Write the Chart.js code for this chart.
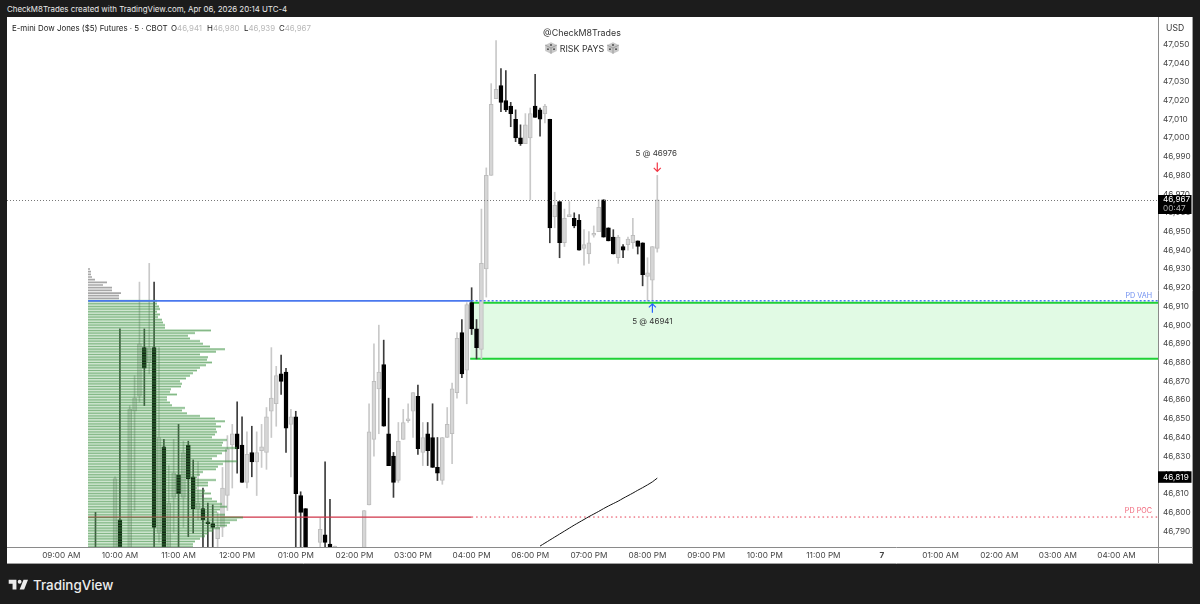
<!DOCTYPE html>
<html>
<head>
<meta charset="utf-8">
<script src="https://cdn.jsdelivr.net/npm/chart.js@4"></script>
<style>
html,body{margin:0;padding:0;width:1200px;height:604px;overflow:hidden;background:#1c1c1c;font-family:Inter,Roboto,sans-serif}
#panel{position:absolute;left:7px;top:17px;width:1186px;height:547px;background:#fff}
canvas{position:absolute;left:7px;top:17px}
.t{position:absolute;white-space:nowrap}
#top{left:7px;top:3px;color:#e8e8e8;font-size:7.9px;line-height:13px}
.h{top:22px;color:#222;font-size:7.9px;line-height:13px}
.h span{color:#b8b8b8}
#sig{left:500px;width:164px;top:26px;text-align:center;color:#333;font-size:8.9px;line-height:13px}
#sig2{left:500px;width:164px;top:41px;text-align:center;color:#333;font-size:8.9px;line-height:13px}
#sig2 svg{vertical-align:-3px;margin:0 2px}
#usd{left:1166px;top:22px;color:#333;font-size:8.6px;line-height:13px}
#logoText{left:33px;top:575px;color:#ececec;font-size:13.4px;line-height:20px;font-weight:500}
#logo{position:absolute;left:7px;top:576px}
</style>
</head>
<body>
<div id="panel"></div>
<canvas id="c" width="1186" height="547"></canvas>
<div class="t" id="top">CheckM8Trades created with TradingView.com, Apr 06, 2026 20:14 UTC-4</div>
<div class="t h" style="left:12px">E-mini Dow Jones ($5) Futures · 5 · CBOT</div>
<div class="t h" style="left:171px">O<span>46,941</span></div>
<div class="t h" style="left:207px">H<span>46,980</span></div>
<div class="t h" style="left:244px">L<span>46,939</span></div>
<div class="t h" style="left:279px">C<span>46,967</span></div>
<div class="t" id="sig">@CheckM8Trades</div>
<div class="t" id="sig2"><svg width="14" height="14" viewBox="0 0 12 12"><path d="M6 1l5 2.5v5L6 11 1 8.500v-5z" fill="#c9c9c9"/><path d="M1 3.500L6 6l5-2.500M6 6v5" stroke="#888" stroke-width=".6" fill="none"/><circle cx="6" cy="3.400" r=".8" fill="#444"/><circle cx="3.400" cy="7" r=".8" fill="#444"/><circle cx="8.600" cy="7" r=".8" fill="#444"/></svg>RISK PAYS<svg width="14" height="14" viewBox="0 0 12 12"><path d="M6 1l5 2.500v5L6 11 1 8.500v-5z" fill="#c9c9c9"/><path d="M1 3.500L6 6l5-2.500M6 6v5" stroke="#888" stroke-width=".6" fill="none"/><circle cx="6" cy="3.400" r=".8" fill="#444"/><circle cx="3.400" cy="7" r=".8" fill="#444"/><circle cx="8.600" cy="7" r=".8" fill="#444"/></svg></div>
<div class="t" id="usd">USD</div>
<svg id="logo" width="24" height="18" viewBox="0 0 36 28"><path fill="#ececec" d="M14 6H2v6h6v9h6V6Zm12 15h-7l6-15h7l-6 15Zm-7-9a3 3 0 1 0 0-6 3 3 0 0 0 0 6Z"/></svg>
<div class="t" id="logoText">TradingView</div>
<script>
// ---- time axis ----
const slotCount = 235;
const firstTickSlot = 10;
const slotsPerTick = 12;
const tickLabels = ['09:00 AM','10:00 AM','11:00 AM','12:00 PM','01:00 PM','02:00 PM','03:00 PM','04:00 PM','06:00 PM','07:00 PM','08:00 PM','09:00 PM','10:00 PM','11:00 PM','7','01:00 AM','02:00 AM','03:00 AM','04:00 AM'];

// ---- candles (time slot, open, high, low, close); off-chart values are estimates ----
const barSlots = [17,21,22,24,25,26,27,28,29,30,31,32,33,34,35,36,37,38,39,40,41,42,43,44,45,46,47,48,49,50,51,52,53,54,55,56,57,58,59,60,63,64,65,66,72,73,74,75,76,77,78,79,80,81,82,83,84,85,86,87,88,89,90,91,92,93,94,95,96,97,98,99,100,101,102,103,104,105,106,107,108,109,110,111,112,113,114,115,116,117,118,119,120,121,122,123,124,125,126,127,128,129,130,131,132];
const opens  = [46778,46770,46796,46770,46854,46862,46888,46880,46888,46789,46835,46775,46808,46820,46808,46836,46819,46802,46802,46795,46794,46786,46792,46809,46836,46842,46836,46816,46832,46827,46833,46832,46854,46858,46874,46875,46847,46851,46809,46802,46784,46788,46783,46775,46775,46804,46839,46866,46879,46842,46830,46817,46839,46849,46854,46862,46832,46842,46840,46824,46817,46840,46842,46864,46896,46876,46912,46898,46887,46930,46980,47021,47028,47020,47017,47010,47000,46997,47000,47017,47015,47013,47010,46958,46966,46944,46958,46957,46956,46941,46938,46948,46950,46967,46952,46947,46936,46942,46943,46944,46945,46944,46926,46924,46941];
const highs  = [46800,46819,46898,46857,46873,46923,46898,46933,46923,46888,46839,46825,46839,46847,46838,46838,46828,46827,46813,46805,46804,46800,46824,46841,46847,46859,46851,46843,46846,46843,46847,46856,46888,46878,46884,46877,46855,46854,46811,46802,46797,46827,46807,46782,46801,46858,46890,46900,46892,46861,46832,46848,46855,46858,46864,46868,46848,46848,46858,46840,46840,46856,46869,46896,46903,46912,46920,46903,46962,46984,47029,47052,47037,47036,47019,47015,47007,47013,47016,47034,47016,47018,47010,46971,46966,46962,46966,46960,46959,46951,46950,46953,46967,46967,46952,46951,46948,46943,46947,46957,46945,46944,46936,46942,46980];
const lows   = [46768,46765,46765,46765,46801,46859,46857,46874,46770,46784,46770,46770,46789,46775,46792,46787,46789,46796,46775,46775,46775,46775,46787,46801,46813,46821,46816,46813,46819,46809,46824,46823,46840,46846,46863,46832,46819,46775,46775,46770,46775,46775,46770,46770,46770,46804,46830,46842,46846,46825,46808,46816,46839,46848,46840,46831,46825,46825,46824,46817,46815,46840,46826,46861,46872,46858,46895,46882,46882,46915,46980,47021,47014,47014,47006,46998,46996,46997,46967,47011,47001,47008,46944,46952,46936,46942,46958,46952,46940,46932,46933,46947,46950,46947,46945,46938,46933,46936,46940,46941,46938,46921,46913,46913,46939];
const closes = [46772,46818,46770,46855,46861,46890,46877,46888,46792,46840,46775,46805,46821,46810,46832,46818,46802,46805,46796,46794,46792,46792,46813,46834,46842,46834,46816,46831,46827,46832,46835,46851,46861,46873,46870,46845,46851,46810,46800,46775,46791,46784,46772,46782,46801,46843,46870,46875,46846,46825,46816,46838,46848,46850,46864,46834,46840,46833,46824,46821,46840,46847,46866,46893,46874,46911,46898,46888,46933,46980,47018,47026,47019,47015,47013,47000,46997,47007,47013,47011,47010,47017,46952,46964,46944,46957,46959,46953,46940,46943,46944,46949,46963,46947,46945,46938,46947,46940,46946,46948,46942,46927,46928,46942,46967];

// ---- curve (starts at slot 108) ----
const curveStartSlot = 108;
const curveValues = [46782,46783.6,46785.2,46786.8,46788.4,46790,46791.6,46793.2,46794.7,46796.2,46797.7,46799.1,46800.5,46802,46803.4,46804.7,46806,46807.5,46808.9,46810.3,46811.8,46813.2,46814.7,46816.3,46818.3];

// ---- volume profile rows, top to bottom ----
const profileTopPrice = 46930;
const profileRowStep = 1.427;
const profileUpperVolumes = [2,3,3,4,7,19,15,24,24,33,31,31];
const profileLowerVolumes = [69,69,71,72,69,72,70,74,75,77,77,123,107,100,102,112,115,122,137,128,112,120,119,124,118,112,109,105,102,98,92,94,93,83,82,89,79,79,82,84,97,94,99,112,127,137,128,133,128,129,127,124,139,135,134,149,139,134,129,124,149,135,130,128,115,112,109,128,120,120,109,117,123,114,124,129,134,139,132,129,137,155,149,142,139,132,125,120,117,112,107,105,105];

// ---- levels ----
const lastPrice = 46967;
const curveLast = 46819;
const vahPrice = 46913;
const pocPrice = 46797.5;
const zoneTop = 46912;
const zoneBottom = 46882;
const sellFill = {slot:132, price:46980, label:'5 @ 46976'};
const buyFill  = {slot:131, price:46913, label:'5 @ 46941'};
const levelStartSlot = 15.5, levelSplitSlot = 94, zoneStartSlot = 93.7, slotEnd = slotCount-0.5;

// ---- build ----
const categories = Array(slotCount).fill('');
tickLabels.forEach((t,k)=>{categories[firstTickSlot+k*slotsPerTick]=t;});
const wickData=Array(slotCount).fill(null), bodyData=Array(slotCount).fill(null),
      wickCol=Array(slotCount).fill('#000'), bodyCol=Array(slotCount).fill('#000'), bodyEdge=Array(slotCount).fill('#000');
barSlots.forEach((s,i)=>{
  const up = closes[i]>=opens[i];
  wickData[s]=[lows[i],highs[i]];
  bodyData[s]=[opens[i],closes[i]];
  wickCol[s]=up?'#c9c9c9':'#3c3c3c';
  bodyCol[s]=up?'#d6d6d6':'#000';
  bodyEdge[s]=up?'#bdbdbd':'#000';
});
function rows(list,startRow){
  const out=[];
  list.forEach((v,k)=>{const p=profileTopPrice-(startRow+k)*profileRowStep;
    out.push({x:0,y:p},{x:v,y:p},{x:null,y:null});});
  return out;
}
const line=(o)=>Object.assign({type:'line',pointRadius:0,xAxisID:'xi',yAxisID:'y',borderWidth:1,fill:false,tension:0},o);

const annotate={
  id:'annotate',
  afterDraw(chart){
    const {ctx,chartArea:a,scales}=chart, y=scales.y, xi=scales.xi;
    const W=chart.width,H=chart.height;
    ctx.save();
    // frame lines
    ctx.strokeStyle='#8a8a8a';ctx.lineWidth=1;
    ctx.beginPath();ctx.moveTo(0,a.bottom+.5);ctx.lineTo(W,a.bottom+.5);ctx.moveTo(a.right+.5,0);ctx.lineTo(a.right+.5,H);ctx.stroke();
    ctx.beginPath();ctx.strokeStyle='#a0a0a0';ctx.moveTo(W-.5,0);ctx.lineTo(W-.5,H);ctx.moveTo(0,H-.5);ctx.lineTo(W,H-.5);ctx.stroke();
    // last price line
    const ly=Math.round(y.getPixelForValue(lastPrice))+.5;
    ctx.setLineDash([1,2]);ctx.strokeStyle='#777';ctx.beginPath();ctx.moveTo(0,ly);ctx.lineTo(a.right,ly);ctx.stroke();ctx.setLineDash([]);
    // price tags
    ctx.fillStyle='#000';
    ctx.fillRect(a.right,ly-5.5,33.5,19);
    const cy=y.getPixelForValue(curveLast);
    ctx.fillRect(a.right,cy-5.5,33.5,11.5);
    ctx.textAlign='left';ctx.textBaseline='middle';
    ctx.font='8.2px Inter';ctx.fillStyle='#fff';
    ctx.fillText(lastPrice.toLocaleString('en-US'),a.right+5,ly-.5);
    ctx.fillText(curveLast.toLocaleString('en-US'),a.right+5,cy+.5);
    ctx.fillStyle='#b0b0b0';ctx.fillText('00:47',a.right+5,ly+8);
    // level labels
    ctx.textAlign='right';ctx.font='7.2px Inter';
    ctx.fillStyle='#6f8ff0';ctx.fillText('PD VAH',a.right-6,y.getPixelForValue(vahPrice)-5);
    ctx.fillStyle='#f0667a';ctx.fillText('PD POC',a.right-6,y.getPixelForValue(pocPrice)-6);
    // fills
    ctx.textAlign='center';ctx.font='8px Inter';ctx.fillStyle='#333';
    const sx=xi.getPixelForValue(sellFill.slot), sy=y.getPixelForValue(sellFill.price);
    const bx=xi.getPixelForValue(buyFill.slot), by=y.getPixelForValue(buyFill.price);
    ctx.fillText(sellFill.label,sx-1,sy-22);
    ctx.fillText(buyFill.label,bx,by+21);
    ctx.lineWidth=1.2;
    ctx.strokeStyle='#f23645';ctx.beginPath();ctx.moveTo(sx,sy-13);ctx.lineTo(sx,sy-4);ctx.moveTo(sx-3.5,sy-7.5);ctx.lineTo(sx,sy-4);ctx.lineTo(sx+3.5,sy-7.5);ctx.stroke();
    ctx.strokeStyle='#2962ff';ctx.beginPath();ctx.moveTo(bx,by+12);ctx.lineTo(bx,by+3);ctx.moveTo(bx-3.5,by+6.5);ctx.lineTo(bx,by+3);ctx.lineTo(bx+3.5,by+6.5);ctx.stroke();
    ctx.restore();
  }
};

new Chart(document.getElementById('c'),{
  data:{labels:categories,datasets:[
    line({label:'Zone',order:10,data:[{x:zoneStartSlot,y:zoneTop},{x:slotEnd,y:zoneTop}],borderColor:'#1fd136',borderWidth:2,fill:{value:zoneBottom},backgroundColor:'#e1fae4'}),
    line({label:'Zone bottom',order:9,data:[{x:zoneStartSlot,y:zoneBottom},{x:slotEnd,y:zoneBottom}],borderColor:'#1fd136',borderWidth:2}),
    {type:'bar',label:'Wicks',order:7,data:wickData,backgroundColor:wickCol,barThickness:1,grouped:false,xAxisID:'x',yAxisID:'y'},
    {type:'bar',label:'Bodies',order:6,data:bodyData,backgroundColor:bodyCol,borderColor:bodyEdge,borderWidth:1,borderSkipped:false,barThickness:4,grouped:false,xAxisID:'x',yAxisID:'y'},
    line({label:'POC',order:5,data:[{x:levelStartSlot,y:pocPrice},{x:levelSplitSlot,y:pocPrice}],borderColor:'#cf3448',borderWidth:1.2}),
    line({label:'POC dotted',order:5,data:[{x:levelSplitSlot,y:pocPrice},{x:slotEnd,y:pocPrice}],borderColor:'#e5364c',borderWidth:1,borderDash:[1.5,3]}),
    line({label:'Profile upper',order:3,xAxisID:'xp',data:rows(profileUpperVolumes,0),borderColor:'rgba(120,120,120,.65)',borderWidth:1.7,borderCapStyle:'butt',spanGaps:false}),
    line({label:'Profile lower band',order:4,xAxisID:'xp',data:rows(profileLowerVolumes,12),borderColor:'rgba(76,160,80,.36)',borderWidth:2.5,borderCapStyle:'butt',spanGaps:false}),
    line({label:'Profile lower',order:3,xAxisID:'xp',data:rows(profileLowerVolumes,12),borderColor:'rgba(56,135,60,.45)',borderWidth:1,borderCapStyle:'butt',spanGaps:false}),
    line({label:'VAH',order:2,data:[{x:levelStartSlot,y:vahPrice},{x:levelSplitSlot,y:vahPrice}],borderColor:'#4a78ee',borderWidth:1.8}),
    line({label:'VAH dotted',order:2,data:[{x:levelSplitSlot,y:vahPrice},{x:slotEnd,y:vahPrice}],borderColor:'#4a78ee',borderWidth:1.6,borderDash:[2,2]}),
    line({label:'Curve',order:1,data:curveValues.map((v,k)=>({x:curveStartSlot+k,y:v})),borderColor:'#111',borderWidth:1,tension:.3})
  ]},
  options:{
    responsive:false,animation:false,events:[],
    layout:{padding:{left:3,right:0,top:0,bottom:0}},
    plugins:{legend:{display:false},tooltip:{enabled:false}},
    scales:{
      x:{type:'category',offset:true,position:'bottom',grid:{display:false,drawTicks:false,tickLength:0},border:{display:false},
         afterFit(s){s.height=17;s.paddingLeft=0;s.paddingRight=0;},
         ticks:{autoSkip:false,maxRotation:0,minRotation:0,padding:4,color:'#444',
           font:(c)=>({family:'Inter',size:8.2,weight:(c.tick&&c.tick.label==='7')?'700':'400'}),
           callback(v){return categories[v];}}},
      y:{type:'linear',position:'right',min:46781.5,max:47064.6,grid:{display:false,drawTicks:false,tickLength:0},border:{display:false},
         afterFit(s){s.width=35;s.paddingTop=0;s.paddingBottom=0;},
         ticks:{stepSize:10,includeBounds:false,padding:5,color:'#444',font:{family:'Inter',size:8.2},
           callback(v){return v>47050?'':Number(v).toLocaleString('en-US');}}},
      xi:{type:'linear',display:false,min:-0.5,max:slotCount-0.5},
      xp:{type:'linear',display:false,min:-78,max:1070}
    }
  },
  plugins:[annotate]
});
</script>
</body>
</html>
